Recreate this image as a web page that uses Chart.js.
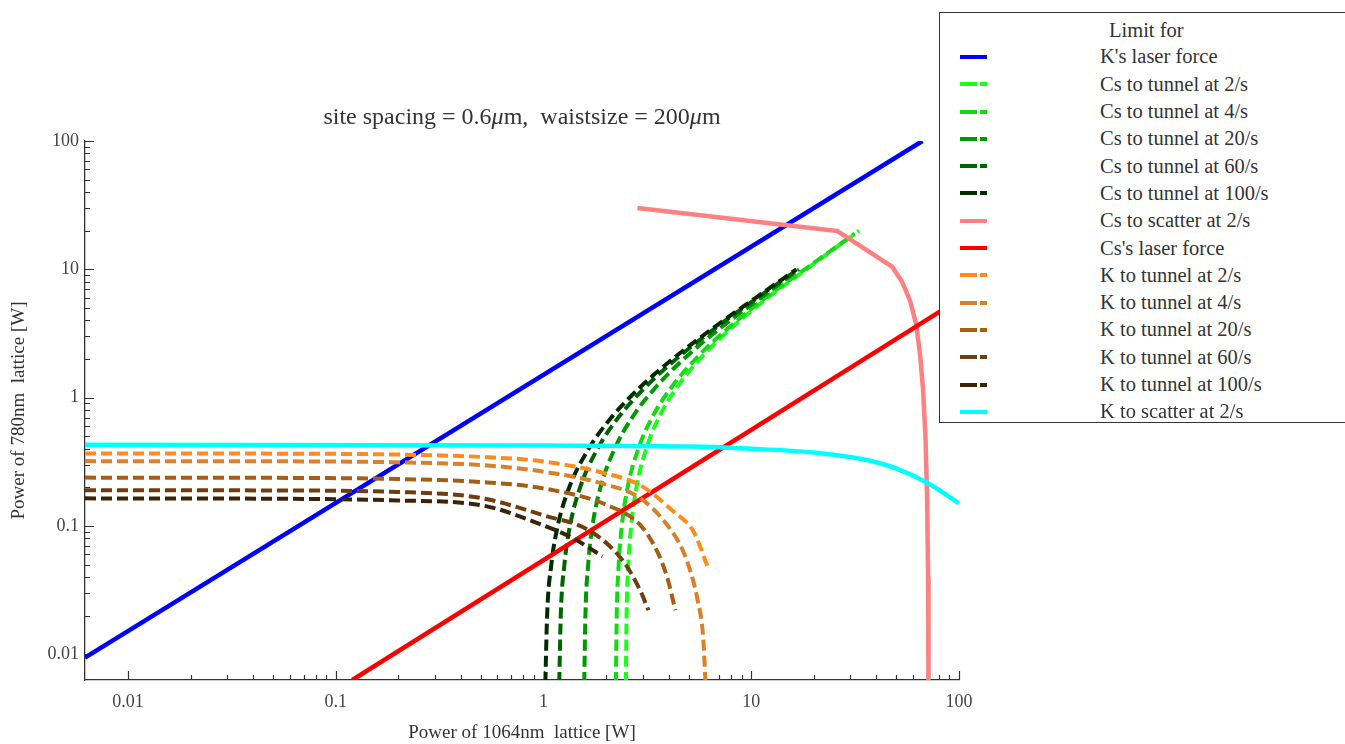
<!DOCTYPE html>
<html>
<head>
<meta charset="utf-8">
<script src="https://cdn.jsdelivr.net/npm/chart.js@4.4.1/dist/chart.umd.min.js"></script>
<style>
    body { margin: 0; background: #fff; }
    #wrap { position: relative; width: 1345px; height: 744px; overflow: hidden; font-family: "Liberation Serif", serif; }
    #chart { position: absolute; left: 0; top: 0; }
    #title { position: absolute; left: 0; width: 1044px; top: 103px; text-align: center; font-size: 24px; color: #333; white-space: pre; }
    #legend { position: absolute; left: 939px; top: 12px; width: 420px; height: 411px; box-sizing: border-box; border: 1.5px solid #333; background: #fff; color: #333; font-size: 20.5px; }
    .leg-title { position: absolute; left: 169px; top: 4px; height: 27px; line-height: 27px; }
    .leg-row { position: absolute; left: 0; height: 27px; width: 100%; }
    .leg-sym { position: absolute; left: 20px; top: 11.5px; height: 4px; }
    .leg-text { position: absolute; left: 160px; top: 0; line-height: 27px; white-space: nowrap; }
</style>
</head>
<body>
<div id="wrap">
    <canvas id="chart" width="1345" height="744"></canvas>
    <div id="title">site spacing = 0.6<i>μ</i>m,  waistsize = 200<i>μ</i>m</div>
    <div id="legend"></div>
</div>
<script>
// axis ticks
const xTickValues = [0.01, 0.1, 1, 10, 100];
const yTickValues = [0.01, 0.1, 1, 10, 100];

// K's laser force
const kLaserX = [0.0062, 66.7];
const kLaserY = [0.0094, 100];

// Cs to tunnel
const csTun2X = [2.49, 2.51, 2.56, 2.64, 2.80, 3.12, 3.59, 4.38, 5.65, 8.04, 12.0, 18.4, 33.0];
const csTun2Y = [0.006, 0.02, 0.05, 0.1, 0.2, 0.4, 0.7, 1.2, 2, 3.5, 6, 10, 20];
const csTun4X = [2.23, 2.25, 2.30, 2.38, 2.54, 2.86, 3.33, 4.12, 5.39, 7.78, 11.7, 18.1, 31.5];
const csTun4Y = [0.006, 0.02, 0.05, 0.1, 0.2, 0.4, 0.7, 1.2, 2, 3.5, 6, 10, 19];
const csTun20X = [1.57, 1.59, 1.64, 1.72, 1.88, 2.20, 2.67, 3.46, 4.73, 7.12, 11.1, 17.0];
const csTun20Y = [0.006, 0.02, 0.05, 0.1, 0.2, 0.4, 0.7, 1.2, 2, 3.5, 6, 10];
const csTun60X = [1.19, 1.21, 1.26, 1.34, 1.50, 1.82, 2.29, 3.08, 4.35, 6.74, 10.7, 16.8];
const csTun60Y = [0.006, 0.02, 0.05, 0.1, 0.2, 0.4, 0.7, 1.2, 2, 3.5, 6, 10];
const csTun100X = [1.02, 1.04, 1.09, 1.17, 1.33, 1.65, 2.12, 2.91, 4.18, 6.57, 10.5, 16.5];
const csTun100Y = [0.006, 0.02, 0.05, 0.1, 0.2, 0.4, 0.7, 1.2, 2, 3.5, 6, 10];

// Cs to scatter
const csScatX = [2.83, 25.9, 47.6, 53.2, 58.1, 62.1, 64.9, 67.1, 69.0, 70.2, 71.0, 71.3];
const csScatY = [30, 19.9, 10.5, 8.0, 5.69, 3.77, 2.20, 1.17, 0.48, 0.164, 0.039, 0.006];

// Cs's laser force
const csLaserX = [0.12, 100];
const csLaserY = [0.0063, 5.8];

// K to tunnel
const kTun2X = [0.0062, 0.05, 0.2, 0.5, 1, 2, 2.93, 4.21, 5.26, 6.14];
const kTun2Y = [0.367, 0.366, 0.36, 0.345, 0.318, 0.256, 0.207, 0.13, 0.091, 0.049];
const kTun4X = [0.0062, 0.05, 0.2, 0.5, 1, 2, 2.93, 3.95, 4.71, 5.26, 5.5, 5.87, 6.02];
const kTun4Y = [0.32, 0.319, 0.313, 0.298, 0.265, 0.21, 0.164, 0.101, 0.063, 0.037, 0.027, 0.0134, 0.006];
const kTun20X = [0.0062, 0.05, 0.2, 0.5, 1, 2.03, 2.93, 3.53, 3.95, 4.31];
const kTun20Y = [0.238, 0.237, 0.232, 0.22, 0.196, 0.145, 0.101, 0.063, 0.039, 0.022];
const kTun60X = [0.0062, 0.05, 0.2, 0.5, 1, 1.68, 2.42, 2.93, 3.2];
const kTun60Y = [0.19, 0.189, 0.184, 0.165, 0.121, 0.091, 0.053, 0.031, 0.022];
const kTun100X = [0.0062, 0.05, 0.2, 0.5, 1, 1.39, 1.92];
const kTun100Y = [0.164, 0.163, 0.158, 0.145, 0.101, 0.08, 0.058];

// K to scatter
const kScatX = [0.0062, 1, 5, 10, 20, 35, 50, 70, 100];
const kScatY = [0.43, 0.423, 0.416, 0.40, 0.373, 0.329, 0.28, 0.218, 0.15];

const series = [
    { label: "K's laser force", x: kLaserX, y: kLaserY, color: "#0000ff", dashed: false, smooth: false },
    { label: "Cs to tunnel at 2/s", x: csTun2X, y: csTun2Y, color: "#1aff1a", dashed: true, smooth: true },
    { label: "Cs to tunnel at 4/s", x: csTun4X, y: csTun4Y, color: "#14d914", dashed: true, smooth: true },
    { label: "Cs to tunnel at 20/s", x: csTun20X, y: csTun20Y, color: "#009a00", dashed: true, smooth: true },
    { label: "Cs to tunnel at 60/s", x: csTun60X, y: csTun60Y, color: "#006400", dashed: true, smooth: true },
    { label: "Cs to tunnel at 100/s", x: csTun100X, y: csTun100Y, color: "#002c00", dashed: true, smooth: true },
    { label: "Cs to scatter at 2/s", x: csScatX, y: csScatY, color: "#ff8080", dashed: false, smooth: false },
    { label: "Cs's laser force", x: csLaserX, y: csLaserY, color: "#ff0000", dashed: false, smooth: false },
    { label: "K to tunnel at 2/s", x: kTun2X, y: kTun2Y, color: "#ff8c1a", dashed: true, smooth: true },
    { label: "K to tunnel at 4/s", x: kTun4X, y: kTun4Y, color: "#d98028", dashed: true, smooth: true },
    { label: "K to tunnel at 20/s", x: kTun20X, y: kTun20Y, color: "#a65e14", dashed: true, smooth: true },
    { label: "K to tunnel at 60/s", x: kTun60X, y: kTun60Y, color: "#6e3e10", dashed: true, smooth: true },
    { label: "K to tunnel at 100/s", x: kTun100X, y: kTun100Y, color: "#3b2208", dashed: true, smooth: true },
    { label: "K to scatter at 2/s", x: kScatX, y: kScatY, color: "#00ffff", dashed: false, smooth: true }
];

function minorTicks(majors) {
    let out = [];
    majors.forEach((m, i) => {
        out.push({ v: m, len: 9 });
        if (i < majors.length - 1) {
            for (let k = 2; k <= 9; k++) out.push({ v: k * m, len: 5 });
        }
    });
    return out;
}

// inward tick marks, drawn from the scales
const tickMarks = {
    id: "tickMarks",
    beforeDatasetsDraw(chart) {
        const { ctx, chartArea, scales } = chart;
        ctx.save();
        ctx.strokeStyle = "#333";
        ctx.lineWidth = 1.2;
        ctx.beginPath();
        minorTicks(xTickValues).forEach(t => {
            const px = Math.round(scales.x.getPixelForValue(t.v)) + 0.5;
            ctx.moveTo(px, chartArea.bottom);
            ctx.lineTo(px, chartArea.bottom - t.len);
        });
        minorTicks(yTickValues).forEach(t => {
            const py = Math.round(scales.y.getPixelForValue(t.v)) + 0.5;
            ctx.moveTo(chartArea.left, py);
            ctx.lineTo(chartArea.left + t.len, py);
        });
        ctx.stroke();
        ctx.restore();
    }
};

const datasets = series.map((s, i) => ({
    label: s.label,
    data: s.x.map((v, j) => ({ x: v, y: s.y[j] })),
    showLine: true,
    pointRadius: 0,
    borderColor: s.color,
    backgroundColor: s.color,
    borderWidth: s.dashed ? 4 : 4.5,
    borderDash: s.dashed ? [11, 5] : [],
    borderJoinStyle: "round",
    cubicInterpolationMode: s.smooth ? "monotone" : "default",
    tension: 0,
    order: series.length - i
}));

Chart.defaults.font.family = "'Liberation Serif', serif";
Chart.defaults.color = "#444";

new Chart(document.getElementById("chart"), {
    type: "scatter",
    data: { datasets: datasets },
    options: {
        responsive: false,
        animation: false,
        devicePixelRatio: 1,
        layout: { padding: { left: 0, right: 386, top: 141, bottom: 0 } },
        plugins: {
            legend: { display: false },
            tooltip: { enabled: false },
            title: { display: false }
        },
        scales: {
            x: {
                type: "logarithmic",
                min: 0.0062,
                max: 100,
                afterBuildTicks: s => { s.ticks = xTickValues.map(v => ({ value: v })); },
                afterFit: s => { s.height = 64; },
                ticks: { font: { size: 18 }, color: "#444", padding: 11, maxRotation: 0, autoSkip: false, callback: v => String(v) },
                grid: { display: false, drawTicks: false },
                border: { display: true, color: "#333", width: 1.3 },
                title: { display: true, text: "Power of 1064nm  lattice [W]", font: { size: 19 }, color: "#333", padding: { top: 0, bottom: 0 } }
            },
            y: {
                type: "logarithmic",
                min: 0.0063,
                max: 100,
                afterBuildTicks: s => { s.ticks = yTickValues.map(v => ({ value: v })); },
                afterFit: s => { s.width = 85; },
                ticks: { font: { size: 18 }, color: "#444", padding: 6, autoSkip: false, callback: v => String(v) },
                grid: { display: false, drawTicks: false },
                border: { display: true, color: "#333", width: 1.3 },
                title: { display: true, text: "Power of 780nm  lattice [W]", font: { size: 19 }, color: "#333", padding: { top: 8, bottom: 0 } }
            }
        }
    },
    plugins: [tickMarks]
});

// legend box over the top right corner
const legendBox = document.getElementById("legend");
const legTitle = document.createElement("div");
legTitle.className = "leg-title";
legTitle.textContent = "Limit for";
legendBox.appendChild(legTitle);

series.forEach((s, i) => {
    const row = document.createElement("div");
    row.className = "leg-row";
    row.style.top = (30.4 + i * 27.3) + "px";
    const sym = document.createElement("div");
    sym.className = "leg-sym";
    sym.style.width = "27px";
    if (s.dashed) {
        sym.style.background = `linear-gradient(to right, ${s.color} 0 17px, transparent 17px 20px, ${s.color} 20px 27px)`;
    } else {
        sym.style.background = s.color;
    }
    const txt = document.createElement("div");
    txt.className = "leg-text";
    txt.textContent = s.label;
    row.appendChild(sym);
    row.appendChild(txt);
    legendBox.appendChild(row);
});
</script>
</body>
</html>
